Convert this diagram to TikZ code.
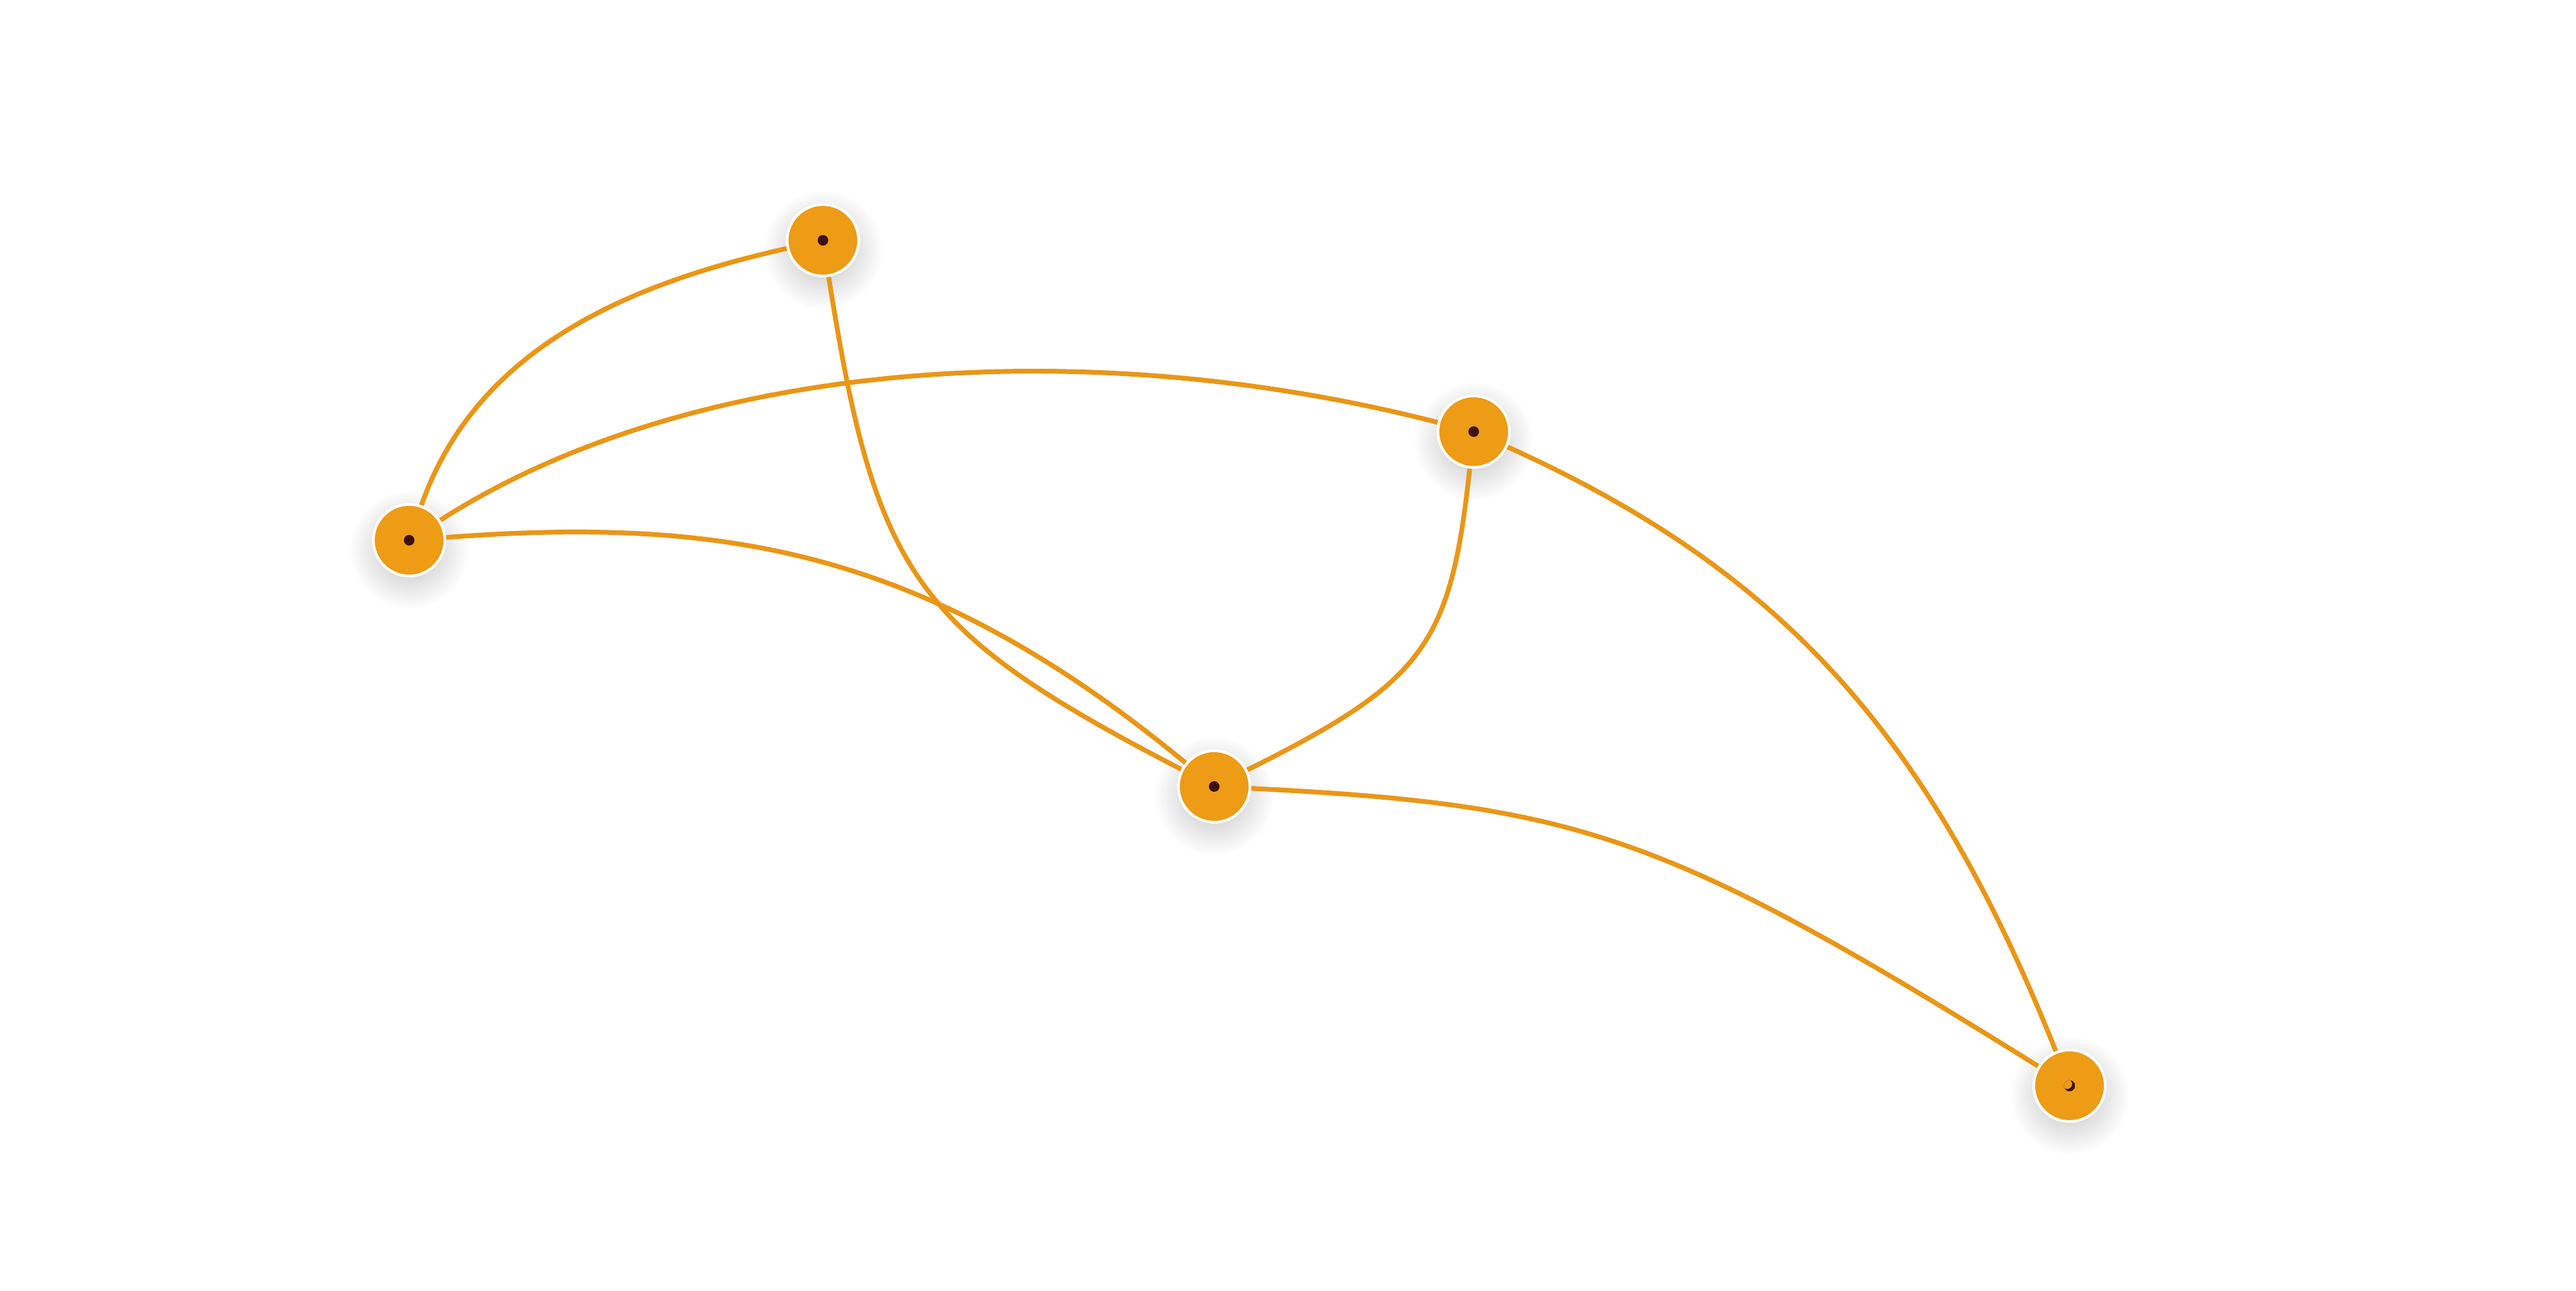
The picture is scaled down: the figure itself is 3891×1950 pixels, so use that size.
\documentclass[tikz,border=0pt]{standalone}
\usetikzlibrary{fadings,calc}
\definecolor{orng}{HTML}{EE9B16}
\definecolor{edgec}{HTML}{EA9616}
\definecolor{dotc}{HTML}{3D1010}
\pgfdeclarelayer{shadowlayer}
\pgfdeclarelayer{edgelayer}
\pgfsetlayers{shadowlayer,edgelayer,main}
\tikzfading[name=shadowfade, inner color=transparent!0, outer color=transparent!100]
\tikzset{
  vtx/.style={circle, fill=orng, draw=white, line width=0.4pt, minimum size=10.8pt, inner sep=0pt},
  edge/.style={draw=edgec, line width=0.72pt},
  dotmark/.style={fill=dotc},
  shadowmark/.style={fill=black, opacity=0.26, path fading=shadowfade}
}
\begin{document}
\begin{tikzpicture}[x=0.1pt,y=-0.1pt]
\useasboundingbox (0,0) rectangle (3891,1950);
% nodes
\node[vtx] (A) at (1243,363) {};
\node[vtx] (B) at (618,816) {};
\node[vtx] (C) at (2226,652) {};
\node[vtx] (D) at (1834,1188) {};
\node[vtx] (E) at (3126,1640) {};
% centre marks
\foreach \n in {A,B,C,D}{\fill[dotmark] (\n) circle (8);}
\begin{scope}
  \clip (E) circle (8.5);
  \fill[dotc, even odd rule] (E) circle (8.5) ($(E)+(-3.5,-2.5)$) circle (7.5);
\end{scope}
% shadows
\begin{pgfonlayer}{shadowlayer}
\foreach \n in {A,B,C,D,E}{\fill[shadowmark] ($(\n)+(0,14)$) circle (90);}
\end{pgfonlayer}
% edges
\begin{pgfonlayer}{edgelayer}
\draw[edge] (B) .. controls (720,525) and (950,429) .. (A);
\draw[edge] (B) .. controls (1040,545) and (1635,500) .. (C);
\draw[edge] (B) .. controls (1094,780) and (1400,830) .. (D);
\draw[edge] (A) .. controls (1323,871) and (1382,953) .. (D);
\draw[edge] (C) .. controls (2191,975) and (2152,1029) .. (D);
\draw[edge] (C) .. controls (2689,861) and (2914,1107) .. (E);
\draw[edge] (D) .. controls (2388,1216) and (2518,1261) .. (E);
\end{pgfonlayer}
\end{tikzpicture}
\end{document}
